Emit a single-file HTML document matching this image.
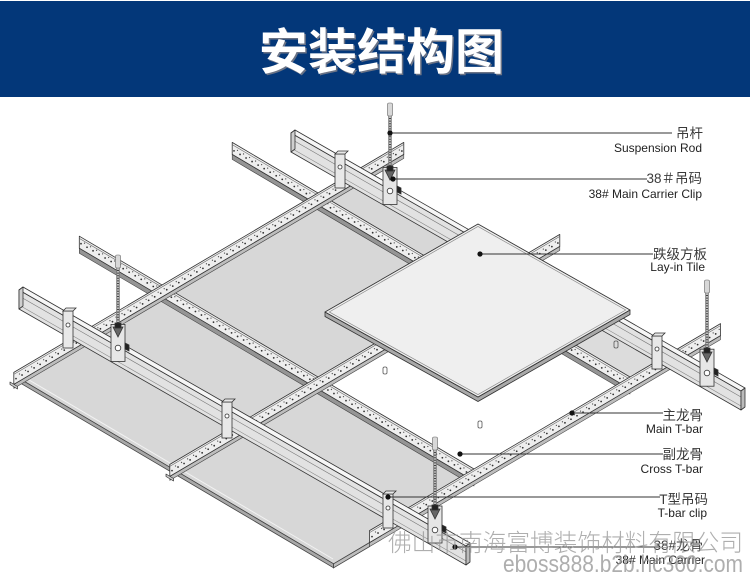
<!DOCTYPE html>
<html><head><meta charset="utf-8">
<style>
html,body{margin:0;padding:0;background:#fff;}
svg{display:block;}
</style></head>
<body>
<svg width="750" height="574" viewBox="0 0 750 574" xmlns="http://www.w3.org/2000/svg">
<rect width="750" height="574" fill="#fff"/>
<!-- header -->
<rect x="0" y="1" width="750" height="96" fill="#033779"/>
<text x="383" y="70.5" text-anchor="middle" font-family="'Noto Sans CJK SC','WenQuanYi Zen Hei',sans-serif" font-weight="bold" font-size="49" fill="#6b7385">安装结构图</text>
<text x="381.5" y="69" text-anchor="middle" font-family="'Noto Sans CJK SC','WenQuanYi Zen Hei',sans-serif" font-weight="bold" font-size="49" fill="#ffffff">安装结构图</text>

<!-- panels -->
<g fill="#d7d7d7" stroke="#555" stroke-width="0.8" stroke-linejoin="round">
<polygon points="162,297 318,389 474,297 318,205"/>
<polygon points="318,205 474,297 514.6,273.1 358.6,181.1"/>
<polygon points="21.6,379.8 177.6,471.8 318,389 162,297"/>
<polygon points="177.6,471.8 333.6,563.8 474,481 318,389"/>
<polygon points="474,297 630,389 670.6,365.1 514.6,273.1" fill="#dcdcdc"/>
</g>
<!-- panel edge thickness -->
<polygon points="21.6,379.8 333.6,563.8 333.6,567.8 21.6,383.8" fill="#a8a8a8" stroke="#444" stroke-width="0.8"/>
<polygon points="333.6,563.8 369.5,542.6 369.5,546.6 333.6,567.8" fill="#bdbdbd" stroke="#444" stroke-width="0.8"/>
<line x1="24" y1="377" x2="333" y2="559" stroke="#f2f2f2" stroke-width="1"/>

<!-- small clip marks -->
<g fill="none" stroke="#555" stroke-width="0.8">
<rect x="383" y="367" width="4" height="7" rx="1.5"/>
<rect x="478" y="421" width="4" height="7" rx="1.5"/>
<rect x="614" y="341" width="4" height="7" rx="1.5"/>
</g>

<!-- cross T-bars (cols) -->
<g stroke-linejoin="round">
<polygon points="79.3,248.2 474,481 474,486 79.3,253.2" fill="#959595" stroke="#444" stroke-width="0.6"/>
<polygon points="79.3,236.2 474,469 474,481 79.3,248.2" fill="#eeeeee" stroke="#333" stroke-width="0.8"/>
<line x1="79.3" y1="238.4" x2="474" y2="471.2" stroke="#666" stroke-width="0.6"/>
<line x1="81" y1="243.7" x2="474" y2="476.5" stroke="#333" stroke-width="1.8" stroke-linecap="round" stroke-dasharray="0 7"/>
<line x1="84.5" y1="243.2" x2="474" y2="473.9" stroke="#555" stroke-width="1.3" stroke-linecap="round" stroke-dasharray="0 7"/>

<polygon points="232.2,154.4 630,389 630,394 232.2,159.4" fill="#959595" stroke="#444" stroke-width="0.6"/>
<polygon points="232.2,142.4 630,377 630,389 232.2,154.4" fill="#eeeeee" stroke="#333" stroke-width="0.8"/>
<line x1="232.2" y1="144.6" x2="630" y2="379.2" stroke="#666" stroke-width="0.6"/>
<line x1="234" y1="150.9" x2="630" y2="384.5" stroke="#333" stroke-width="1.8" stroke-linecap="round" stroke-dasharray="0 7"/>
<line x1="237.5" y1="150.4" x2="630" y2="381.9" stroke="#555" stroke-width="1.3" stroke-linecap="round" stroke-dasharray="0 7"/>
</g>

<!-- main T-bars (rows) -->
<g stroke-linejoin="round">
<polygon points="13.8,384.4 403.8,154.4 403.8,158.4 13.8,388.4" fill="#bdbdbd" stroke="#444" stroke-width="0.6"/>
<polygon points="13.8,372.4 403.8,142.4 403.8,154.4 13.8,384.4" fill="#eeeeee" stroke="#333" stroke-width="0.8"/>
<line x1="13.8" y1="374.4" x2="403.8" y2="144.4" stroke="#666" stroke-width="0.6"/>
<line x1="16" y1="378.6" x2="403" y2="150.4" stroke="#333" stroke-width="1.8" stroke-linecap="round" stroke-dasharray="0 7"/>
<line x1="19.5" y1="374" x2="403" y2="147.9" stroke="#555" stroke-width="1.3" stroke-linecap="round" stroke-dasharray="0 7"/>
<polygon points="10,382 17.5,386.5 17.5,389 10,384.5" fill="#ccc" stroke="#333" stroke-width="0.7"/>

<polygon points="169.8,476.4 559.8,246.4 559.8,250.4 169.8,480.4" fill="#bdbdbd" stroke="#444" stroke-width="0.6"/>
<polygon points="169.8,464.4 559.8,234.4 559.8,246.4 169.8,476.4" fill="#eeeeee" stroke="#333" stroke-width="0.8"/>
<line x1="169.8" y1="466.4" x2="559.8" y2="236.4" stroke="#666" stroke-width="0.6"/>
<line x1="172" y1="470.6" x2="559" y2="242.4" stroke="#333" stroke-width="1.8" stroke-linecap="round" stroke-dasharray="0 7"/>
<line x1="175.5" y1="466" x2="559" y2="239.9" stroke="#555" stroke-width="1.3" stroke-linecap="round" stroke-dasharray="0 7"/>
<polygon points="166,474 173.5,478.5 173.5,481 166,476.5" fill="#ccc" stroke="#333" stroke-width="0.7"/>

<polygon points="369.5,542.6 720.5,335.6 720.5,339.6 369.5,546.6" fill="#bdbdbd" stroke="#444" stroke-width="0.6"/>
<polygon points="369.5,530.6 720.5,323.6 720.5,335.6 369.5,542.6" fill="#eeeeee" stroke="#333" stroke-width="0.8"/>
<line x1="369.5" y1="532.6" x2="720.5" y2="325.6" stroke="#666" stroke-width="0.6"/>
<line x1="372" y1="536.6" x2="720" y2="331.4" stroke="#333" stroke-width="1.8" stroke-linecap="round" stroke-dasharray="0 7"/>
<line x1="375.5" y1="532" x2="720" y2="328.9" stroke="#555" stroke-width="1.3" stroke-linecap="round" stroke-dasharray="0 7"/>
</g>

<!-- carriers -->
<g stroke="#333" stroke-width="0.8" stroke-linejoin="round">
<polygon points="19,290 466,546 466,565 19,309" fill="#e2e2e2"/>
<polygon points="23,287 470,543 466,546 19,290" fill="#f6f6f6"/>
<line x1="19" y1="296" x2="466" y2="552" stroke="#777" stroke-width="0.6"/>
<line x1="19" y1="305" x2="466" y2="561" stroke="#888" stroke-width="0.6"/>
<polygon points="470,543 470,562 466,565 466,546" fill="#bbb"/>
<polygon points="19,290 23,287 23,306 19,309" fill="#cfcfcf"/>

<polygon points="291,133 741,391 741,410 291,152" fill="#e2e2e2"/>
<polygon points="295,130 745,388 741,391 291,133" fill="#f6f6f6"/>
<line x1="291" y1="139" x2="741" y2="397" stroke="#777" stroke-width="0.6"/>
<line x1="291" y1="148" x2="741" y2="406" stroke="#888" stroke-width="0.6"/>
<polygon points="745,388 745,407 741,410 741,391" fill="#bbb"/>
<polygon points="291,133 295,130 295,149 291,152" fill="#cfcfcf"/>
</g>

<!-- T-bar clips -->
<g fill="#e8e8e8" stroke="#333" stroke-width="0.8">
<rect x="63" y="311" width="10" height="37"/>
<polygon points="63,311 66,308 76,308 73,311"/>
<circle cx="68" cy="325" r="2" fill="#fff"/>
<rect x="222" y="402" width="10" height="36"/>
<polygon points="222,402 225,399 235,399 232,402"/>
<circle cx="227" cy="416" r="2" fill="#fff"/>
<rect x="383" y="494" width="10" height="34"/>
<polygon points="383,494 386,491 396,491 393,494"/>
<circle cx="388" cy="508" r="2" fill="#fff"/>
<rect x="335" y="154" width="10" height="34"/>
<polygon points="335,154 338,151 348,151 345,154"/>
<circle cx="340" cy="167" r="2" fill="#fff"/>
<rect x="652" y="336" width="10" height="33"/>
<polygon points="652,336 655,333 665,333 662,336"/>
<circle cx="657" cy="349" r="2" fill="#fff"/>
</g>

<!-- suspension rods -->
<g>
<rect x="388.5" y="106" width="3" height="63" fill="#bdbdbd" stroke="#555" stroke-width="0.5"/>
<line x1="390" y1="118" x2="390" y2="168" stroke="#444" stroke-width="2" stroke-dasharray="1 1.6"/>
<rect x="387.5" y="103" width="5" height="13" rx="1.5" fill="#d8d8d8" stroke="#666" stroke-width="0.6"/>

<rect x="116.5" y="258" width="3" height="68" fill="#bdbdbd" stroke="#555" stroke-width="0.5"/>
<line x1="118" y1="270" x2="118" y2="325" stroke="#444" stroke-width="2" stroke-dasharray="1 1.6"/>
<rect x="115.5" y="255" width="5" height="13" rx="1.5" fill="#d8d8d8" stroke="#666" stroke-width="0.6"/>

<rect x="705.5" y="283" width="3" height="68" fill="#bdbdbd" stroke="#555" stroke-width="0.5"/>
<line x1="707" y1="295" x2="707" y2="350" stroke="#444" stroke-width="2" stroke-dasharray="1 1.6"/>
<rect x="704.5" y="280" width="5" height="13" rx="1.5" fill="#d8d8d8" stroke="#666" stroke-width="0.6"/>

<rect x="433.5" y="440" width="3" height="68" fill="#bdbdbd" stroke="#555" stroke-width="0.5"/>
<line x1="435" y1="452" x2="435" y2="507" stroke="#444" stroke-width="2" stroke-dasharray="1 1.6"/>
<rect x="432.5" y="437" width="5" height="13" rx="1.5" fill="#d8d8d8" stroke="#666" stroke-width="0.6"/>
</g>

<!-- 38# carrier clips -->
<g stroke="#333" stroke-width="0.8">
<rect x="383" y="167.5" width="14" height="37" fill="#e6e6e6"/>
<polygon points="385,170 395,170 390,180" fill="#666"/>
<rect x="387" y="166" width="6" height="5" fill="#222"/>
<circle cx="390" cy="191" r="2.8" fill="#fff"/>
<polygon points="397,186 401,188 401,194 397,192" fill="#222"/>

<rect x="111" y="324.4" width="14" height="37" fill="#e6e6e6"/>
<polygon points="113,327 123,327 118,337" fill="#666"/>
<rect x="115" y="323" width="6" height="5" fill="#222"/>
<circle cx="118" cy="348" r="2.8" fill="#fff"/>
<polygon points="125,343 129,345 129,351 125,349" fill="#222"/>

<rect x="700" y="349.2" width="14" height="37" fill="#e6e6e6"/>
<polygon points="702,352 712,352 707,362" fill="#666"/>
<rect x="704" y="348" width="6" height="5" fill="#222"/>
<circle cx="707" cy="373" r="2.8" fill="#fff"/>
<polygon points="714,368 718,370 718,376 714,374" fill="#222"/>

<rect x="428" y="506" width="14" height="37" fill="#e6e6e6"/>
<polygon points="430,509 440,509 435,519" fill="#666"/>
<rect x="432" y="505" width="6" height="5" fill="#222"/>
<circle cx="435" cy="530" r="2.8" fill="#fff"/>
<polygon points="442,525 446,527 446,533 442,531" fill="#222"/>
</g>

<!-- lay-in tile -->
<polygon points="325,312 478,397 630,310 630,314.5 478,401.5 325,316.5" fill="#a9a9a9" stroke="#333" stroke-width="0.8" stroke-linejoin="round"/>
<polygon points="478,224 630,310 478,397 325,312" fill="#efefef" stroke="#333" stroke-width="0.9" stroke-linejoin="round"/>
<polygon points="478,224 630,310 478,397 325,312" fill="none" stroke="#8a8a8a" stroke-width="0.7" transform="translate(477.5 310.5) scale(0.972) translate(-477.5 -310.5)"/>

<!-- leader lines -->
<g stroke="#333" stroke-width="1">
<line x1="390" y1="133" x2="672" y2="133"/>
<line x1="393" y1="179" x2="647" y2="179"/>
<line x1="480" y1="254" x2="653" y2="254"/>
<line x1="572" y1="413" x2="663" y2="413"/>
<line x1="460" y1="454" x2="663" y2="454"/>
<line x1="388" y1="497" x2="660" y2="497"/>
<line x1="455" y1="547" x2="660" y2="547"/>
</g>
<g fill="#111">
<circle cx="390" cy="133" r="2.6"/>
<circle cx="393" cy="179" r="2.6"/>
<circle cx="480" cy="254" r="2.6"/>
<circle cx="572" cy="413" r="2.6"/>
<circle cx="460" cy="454" r="2.6"/>
<circle cx="388" cy="497" r="2.6"/>
<circle cx="455" cy="547" r="2.6"/>
</g>

<!-- labels -->
<g font-family="'Liberation Sans','Noto Sans CJK SC',sans-serif" text-anchor="end">
<g font-size="13.5" fill="#3a3a3a">
<text x="703" y="138">吊杆</text>
<text x="702" y="183">38＃吊码</text>
<text x="707" y="259">跌级方板</text>
<text x="703" y="420">主龙骨</text>
<text x="703" y="459">副龙骨</text>
<text x="708" y="504">T型吊码</text>
<text x="703" y="550">38#龙骨</text>
</g>
<g font-size="12" fill="#222">
<text x="702" y="152">Suspension Rod</text>
<text x="702" y="198">38# Main Carrier Clip</text>
<text x="705" y="271">Lay-in Tile</text>
<text x="703" y="433">Main T-bar</text>
<text x="703" y="473">Cross T-bar</text>
<text x="707" y="517">T-bar clip</text>
<text x="705" y="564">38# Main Carrier</text>
</g>
</g>

<!-- watermark -->
<text x="388" y="551" font-size="24" textLength="355" lengthAdjust="spacingAndGlyphs" fill="#9a9a9a" fill-opacity="0.8" font-family="'Noto Sans CJK SC','WenQuanYi Zen Hei',sans-serif" font-weight="300">佛山市南海富博装饰材料有限公司</text>
<text x="503" y="572" font-size="24" textLength="240" lengthAdjust="spacingAndGlyphs" fill="#9a9a9a" fill-opacity="0.8" font-family="'Liberation Sans',sans-serif">eboss888.b2b.hc360.com</text>
</svg>
</body></html>
